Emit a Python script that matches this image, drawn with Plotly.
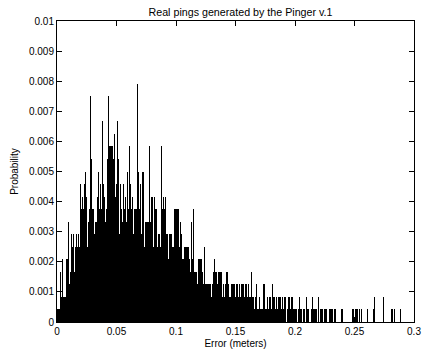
import plotly.graph_objects as go

# ---- data: visible bar heights, in numbers of pings per (pixel-wide) error bin ----
N_PINGS = 2400          # probability = count / N_PINGS
X_MAX = 0.3             # error range covered by the bins (meters)

counts_000_005 = [1, 1, 1, 4, 2, 5, 2, 2, 2, 5,
                  5, 8, 3, 4, 7, 6, 7, 4, 6, 7,
                  6, 7, 6, 11, 9, 10, 9, 11, 12, 10,
                  6, 8, 9, 18, 13, 9, 9, 7, 8, 8,
                  10, 12, 9, 11, 9, 16, 11, 10, 8, 9,
                  13, 18, 14, 14, 14, 14, 13, 15, 10, 11]
counts_005_010 = [16, 13, 7, 11, 9, 8, 11, 9, 10, 8,
                  12, 9, 14, 11, 9, 10, 7, 9, 9, 9,
                  19, 12, 9, 11, 7, 12, 12, 6, 8, 8,
                  8, 8, 14, 8, 10, 10, 6, 10, 9, 9,
                  6, 7, 7, 6, 14, 9, 10, 9, 10, 7,
                  7, 5, 7, 7, 7, 6, 6, 9, 9, 9]
counts_010_015 = [9, 9, 6, 8, 7, 5, 5, 6, 6, 6,
                  6, 6, 5, 4, 8, 5, 9, 4, 4, 4,
                  3, 5, 5, 5, 5, 4, 3, 6, 3, 3,
                  3, 3, 3, 3, 2, 3, 4, 5, 4, 4,
                  3, 4, 4, 4, 4, 2, 3, 2, 3, 4,
                  4, 3, 2, 2, 3, 3, 3, 3, 2]
counts_015_020 = [3, 3, 2, 3, 2, 3, 3, 3, 2, 3,
                  3, 2, 3, 2, 2, 4, 2, 2, 1, 2,
                  3, 1, 1, 2, 1, 1, 1, 3, 3, 1,
                  1, 2, 1, 2, 2, 1, 3, 2, 2, 1,
                  2, 1, 2, 2, 2, 1, 2, 1, 2, 2,
                  0, 1, 2, 2, 1, 2, 2, 1, 1, 1]
counts_020_025 = [1, 0, 1, 2, 1, 1, 0, 1, 1, 0,
                  2, 1, 1, 0, 0, 1, 2, 1, 1, 1,
                  1, 0, 2, 0, 1, 1, 1, 0, 1, 1,
                  1, 0, 0, 1, 1, 1, 1, 0, 1, 1,
                  0, 0, 0, 0, 0, 1, 1, 0, 0, 0,
                  0, 0, 0, 0, 0, 0, 1, 1, 0]
counts_025_030 = [1, 1, 1, 0, 1, 0, 1, 0, 0, 0,
                  0, 0, 1, 0, 0, 0, 0, 0, 1, 2,
                  0, 0, 0, 0, 0, 0, 0, 0, 2, 0,
                  0, 0, 0, 0, 0, 0, 1, 1, 0, 1,
                  0, 0, 0, 0, 0, 1, 0, 0, 0, 0,
                  0, 0, 0, 0, 0, 0, 0, 0, 0]

x_tickvals = [0, 0.05, 0.1, 0.15, 0.2, 0.25, 0.3]
x_ticktext = ["0", "0.05", "0.1", "0.15", "0.2", "0.25", "0.3"]
y_tickvals = [0, 0.001, 0.002, 0.003, 0.004, 0.005, 0.006, 0.007, 0.008, 0.009, 0.01]
y_ticktext = ["0", "0.001", "0.002", "0.003", "0.004", "0.005",
              "0.006", "0.007", "0.008", "0.009", "0.01"]

title_text = "Real pings generated by the Pinger v.1"
x_title = "Error (meters)"
y_title = "Probability"

# ---- derived ----
counts = (counts_000_005 + counts_005_010 + counts_010_015 +
          counts_015_020 + counts_020_025 + counts_025_030)
bin_w = X_MAX / len(counts)
centers = [(i + 0.5) * bin_w for i in range(len(counts))]
prob = [c / N_PINGS for c in counts]

FONT = "Liberation Sans, Arial, sans-serif"

fig = go.Figure()
fig.add_trace(go.Bar(
    x=centers, y=prob, width=bin_w,
    marker=dict(color="rgba(0,0,0,0.999)", line=dict(width=0)),
    hoverinfo="skip",
))

axis_common = dict(
    showline=True, linecolor="black", linewidth=1, mirror="ticks",
    ticks="inside", ticklen=5, tickcolor="black", tickwidth=1,
    showgrid=False, zeroline=False, automargin=False,
    tickfont=dict(family=FONT, size=10, color="black"),
)

fig.update_layout(
    width=422, height=358,
    margin=dict(l=57, r=8, t=21, b=36, pad=0, autoexpand=False),
    paper_bgcolor="white", plot_bgcolor="white",
    showlegend=False, bargap=0,
    title=dict(text=title_text, x=(240.5 - 57) / 357, xref="paper", y=1 - 12.5 / 358,
               yref="container", xanchor="center", yanchor="middle",
               font=dict(family=FONT, size=10.7, color="black")),
    xaxis=dict(range=[0, X_MAX], tickvals=x_tickvals, ticktext=x_ticktext,
               title=dict(text=x_title, standoff=3,
                          font=dict(family=FONT, size=10, color="black")),
               **axis_common),
    yaxis=dict(range=[0, 0.01], tickvals=y_tickvals, ticktext=y_ticktext,
               title=dict(text=y_title, standoff=8,
                          font=dict(family=FONT, size=10, color="black")),
               **axis_common),
)

fig.write_html("out.html")
